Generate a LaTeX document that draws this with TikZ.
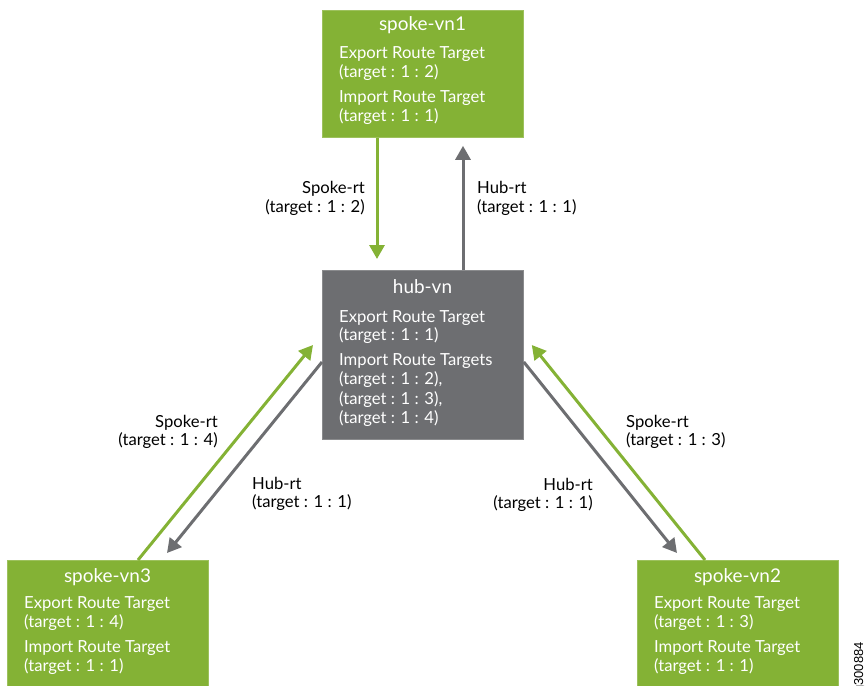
\documentclass[tikz,border=0pt]{standalone}
\usepackage{fontspec}
\setmainfont{Lato}
\newfontfamily\idfont{Liberation Sans}
\usetikzlibrary{arrows.meta,calc}
\definecolor{jgreen}{RGB}{132,178,53}
\definecolor{jgray}{RGB}{109,110,113}
\begin{document}
\begin{tikzpicture}[x=1bp,y=-1bp,
  box/.style={draw=#1!80!white, fill=#1, line width=0.8bp, minimum width=201bp, inner sep=0, anchor=north west},
  ttl/.style={text=white, font=\fontsize{19}{22}\selectfont, anchor=base, inner sep=0},
  bt/.style={text=white, font=\fontsize{16.7}{20}\selectfont, anchor=base west, inner sep=0},
  lbl/.style={text=black, font=\fontsize{16.7}{20}\selectfont, inner sep=0},
  garrow/.style={draw=jgreen, line width=3bp, -{Triangle[length=14bp,width=15bp]}},
  harrow/.style={draw=jgray, line width=3bp, -{Triangle[length=14bp,width=15bp]}}]
\useasboundingbox (0,0) rectangle (865,686);

% boxes
\node[box=jgreen, minimum height=127bp] (v1) at (322,10) {};
\node[box=jgray, minimum height=169bp] (hub) at (322,270) {};
\node[box=jgreen, minimum height=130bp] (v3) at (7,560) {};
\node[box=jgreen, minimum height=130bp] (v2) at (637,560) {};

% spoke-vn1 text
\node[ttl] (v1t) at (422.5,31) {spoke-vn1};
\node[bt] (v1a) at (339,59) {Export Route Target};
\node[bt] (v1b) at (339,78) {(target : 1 : 2)};
\node[bt] (v1c) at (339,103) {Import Route Target};
\node[bt] (v1d) at (339,122) {(target : 1 : 1)};

% hub-vn text
\node[ttl] (hubt) at (422.5,293) {hub-vn};
\node[bt] (huba) at (339,322) {Export Route Target};
\node[bt] (hubb) at (339,340) {(target : 1 : 1)};
\node[bt] (hubc) at (339,365) {Import Route Targets};
\node[bt] (hubd) at (339,384) {(target : 1 : 2),};
\node[bt] (hube) at (339,404) {(target : 1 : 3),};
\node[bt] (hubf) at (339,423) {(target : 1 : 4)};

% spoke-vn3 text
\node[ttl] (v3t) at (107.5,582) {spoke-vn3};
\node[bt] (v3a) at (24,608) {Export Route Target};
\node[bt] (v3b) at (24,627) {(target : 1 : 4)};
\node[bt] (v3c) at (24,652) {Import Route Target};
\node[bt] (v3d) at (24,671) {(target : 1 : 1)};

% spoke-vn2 text
\node[ttl] (v2t) at (737.5,582) {spoke-vn2};
\node[bt] (v2a) at (654,608) {Export Route Target};
\node[bt] (v2b) at (654,627) {(target : 1 : 3)};
\node[bt] (v2c) at (654,652) {Import Route Target};
\node[bt] (v2d) at (654,671) {(target : 1 : 1)};

% connector end points
\coordinate (a1s) at ($(v1.south west)+(55,0)$);
\coordinate (a1e) at ($(hub.north west)+(55,-11)$);
\coordinate (a2s) at ($(hub.north west)+(141,0)$);
\coordinate (a2e) at ($(v1.south west)+(141,8)$);
\coordinate (a3s) at ($(v3.north west)+(131,0)$);
\coordinate (a3e) at ($(hub.north west)+(-9,75)$);
\coordinate (a4s) at ($(hub.north west)+(0,92)$);
\coordinate (a4e) at ($(v3.north west)+(160,-7)$);
\coordinate (a5s) at ($(hub.north east)+(0,92)$);
\coordinate (a5e) at ($(v2.north west)+(40,-7)$);
\coordinate (a6s) at ($(v2.north west)+(68,0)$);
\coordinate (a6e) at ($(hub.north east)+(8,75)$);

\draw[garrow] (a1s) -- (a1e);
\draw[harrow] (a2s) -- (a2e);
\draw[garrow] (a3s) -- (a3e);
\draw[harrow] (a4s) -- (a4e);
\draw[harrow] (a5s) -- (a5e);
\draw[garrow] (a6s) -- (a6e);

% labels
\node[lbl, anchor=base east] (l1a) at (365,193) {Spoke-rt};
\node[lbl, anchor=base east] (l1b) at (365,212) {(target : 1 : 2)};
\node[lbl, anchor=base west] (l2a) at (477,193) {Hub-rt};
\node[lbl, anchor=base west] (l2b) at (477,212) {(target : 1 : 1)};
\node[lbl, anchor=base east] (l3a) at (218,427) {Spoke-rt};
\node[lbl, anchor=base east] (l3b) at (218,445) {(target : 1 : 4)};
\node[lbl, anchor=base west] (l4a) at (252,489) {Hub-rt};
\node[lbl, anchor=base west] (l4b) at (252,507) {(target : 1 : 1)};
\node[lbl, anchor=base west] (l5a) at (626,427) {Spoke-rt};
\node[lbl, anchor=base west] (l5b) at (626,445) {(target : 1 : 3)};
\node[lbl, anchor=base east] (l6a) at (593,490) {Hub-rt};
\node[lbl, anchor=base east] (l6b) at (593,508) {(target : 1 : 1)};

% figure id
\node[rotate=90, anchor=base east, inner sep=0, font=\idfont\fontsize{13}{15}\selectfont] (fid) at (863,642) {g300884};
\end{tikzpicture}
\end{document}
